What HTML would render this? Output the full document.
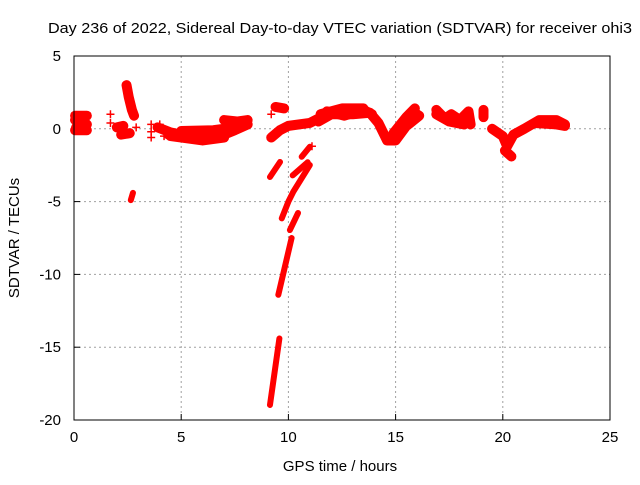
<!DOCTYPE html>
<html><head><meta charset="utf-8"><style>
body{margin:0;background:#fff}
svg text{font-family:"Liberation Sans",sans-serif;font-size:15px;fill:#000}
</style></head><body>
<svg id="c" width="640" height="480"></svg>
<script>
const xTicks=[0,5,10,15,20,25];
const yTicks=[5,0,-5,-10,-15,-20];
// thick band segments [x,y]
const bands=[
 [[0.05,0.6],[0.3,0.4],[0.6,0.3]],
 [[0.1,0.1],[0.5,0.0]],
 [[0.05,0.9],[0.6,0.9]],[[0.05,-0.1],[0.6,-0.1]],
 [[2.45,3.0],[2.55,2.2],[2.7,1.3],[2.8,0.9]],
 [[2.0,0.1],[2.3,0.2]],[[2.2,-0.4],[2.6,-0.3]],
 [[3.9,0.1],[4.5,-0.25],[5,-0.4],[6,-0.55],[7,-0.4],[7.5,-0.1],[8.1,0.3]],
 [[4.4,-0.4],[5.5,-0.5],[6.5,-0.5]],
 [[4.5,-0.5],[6,-0.8],[7,-0.6]],
 [[5,-0.15],[6.5,-0.1],[7.5,0.1]],
 [[7.0,0.6],[7.6,0.5],[8.1,0.6]],
 [[9.4,1.5],[9.8,1.4]],
 [[9.2,-0.6],[9.6,-0.1],[10,0.2],[11,0.4],[11.4,0.7]],
 [[11.4,0.5],[12,1.0],[13,1.0],[13.8,1.1],[14.2,0.4],[14.6,-0.8],[15,-0.8],[15.5,0.2],[16,1.0]],
 [[11.8,1.2],[12.6,0.9],[13.5,1.3],[13.9,1.0]],
 [[11.5,1.0],[12.5,1.4],[13.5,1.4]],
 [[14.9,-0.3],[15.5,0.8],[15.9,1.4]],
 [[15,-0.2],[15.6,0.3],[16.1,0.9]],
 [[16.9,1.3],[17.3,0.7],[17.6,1.0],[18,0.6],[18.4,1.2],[18.5,0.3]],
 [[16.9,1.0],[17.5,0.5],[18.2,0.3]],
 [[19.1,0.8],[19.1,1.3]],
 [[19.5,0.0],[20,-0.5],[20.2,-1.2],[20.5,-0.4],[21,0.0],[21.7,0.6],[22.5,0.6],[22.9,0.3]],
 [[21.5,0.4],[22.5,0.3],[22.9,0.2]],
 [[20.1,-1.5],[20.4,-1.9]]
];
// thin steep segments
const steep=[
 [[2.65,-4.9],[2.75,-4.4]],
 [[9.14,-3.31],[9.61,-2.28]],
 [[10.62,-1.92],[11.0,-1.23]],
 [[9.69,-6.15],[10.0,-5.0],[10.23,-4.32],[11.0,-2.49]],
 [[10.2,-3.2],[10.9,-2.3]],
 [[10.07,-6.95],[10.45,-5.78]],
 [[9.53,-11.4],[10.15,-7.5]],
 [[9.14,-18.97],[9.58,-14.4]]
];
// isolated crosses
const crossX=[1.7,1.7,2.9,3.6,3.6,3.6,4.0,4.2,9.2,11.1];
const crossY=[1.0,0.4,0.1,0.3,-0.2,-0.6,0.3,-0.5,1.0,-1.2];
const L=74,R=610,T=56,B=420;
const sx=v=>L+(v-0)/25*(R-L);
const sy=v=>T+(5-v)/25*(B-T);
const svg=document.getElementById('c');
const NS='http://www.w3.org/2000/svg';
function mk(t,a){const e=document.createElementNS(NS,t);for(const k in a)e.setAttribute(k,a[k]);svg.appendChild(e);return e;}
xTicks.forEach(v=>{
 if(v>0&&v<25){const g=mk('line',{x1:sx(v),x2:sx(v),y1:T,y2:B,stroke:'#a0a0a0','stroke-dasharray':'2,3'});
 
 }
 const t=mk('line',{x1:sx(v),x2:sx(v),y1:B,y2:B-6,stroke:'#000'});
 
 
 const l=mk('text',{x:sx(v),y:B+22,'text-anchor':'middle'});l.textContent=v;
 
 
});
yTicks.forEach(v=>{
 if(v<5&&v>-20){const g=mk('line',{x1:L,x2:R,y1:sy(v),y2:sy(v),stroke:'#a0a0a0','stroke-dasharray':'2,3'});
 
 }
 const t=mk('line',{x1:L,x2:L+6,y1:sy(v),y2:sy(v),stroke:'#000'});
 
 
 const l=mk('text',{x:L-13,y:sy(v)+5,'text-anchor':'end'});l.textContent=v;
 
 
});
bands.forEach(b=>{
 const p=mk('polyline',{points:b.map(d=>sx(d[0])+','+sy(d[1])).join(' '),fill:'none',stroke:'#f00','stroke-width':10,'stroke-linecap':'round','stroke-linejoin':'round'});
 
 
});
steep.forEach(b=>{
 const p=mk('polyline',{points:b.map(d=>sx(d[0])+','+sy(d[1])).join(' '),fill:'none',stroke:'#f00','stroke-width':6,'stroke-linecap':'round','stroke-linejoin':'round'});
 
 
});
crossX.forEach((x,i)=>{
 const X=sx(x),Y=sy(crossY[i]);
 const p=mk('path',{d:`M${X-4},${Y}H${X+4}M${X},${Y-4}V${Y+4}`,stroke:'#f00','stroke-width':1.5});
 
 
});
const box=mk('rect',{x:L,y:T,width:R-L,height:B-T,fill:'none',stroke:'#000'});


const ti=mk('text',{x:48,y:33,textLength:584,lengthAdjust:'spacingAndGlyphs'});ti.textContent='Day 236 of 2022, Sidereal Day-to-day VTEC variation (SDTVAR) for receiver ohi3';


const xt=mk('text',{x:340,y:471,'text-anchor':'middle'});xt.textContent='GPS time / hours';


const yt=mk('text',{x:0,y:0,'text-anchor':'middle',transform:'translate(19,238) rotate(-90)'});yt.textContent='SDTVAR / TECUs';


</script>
</body></html>
